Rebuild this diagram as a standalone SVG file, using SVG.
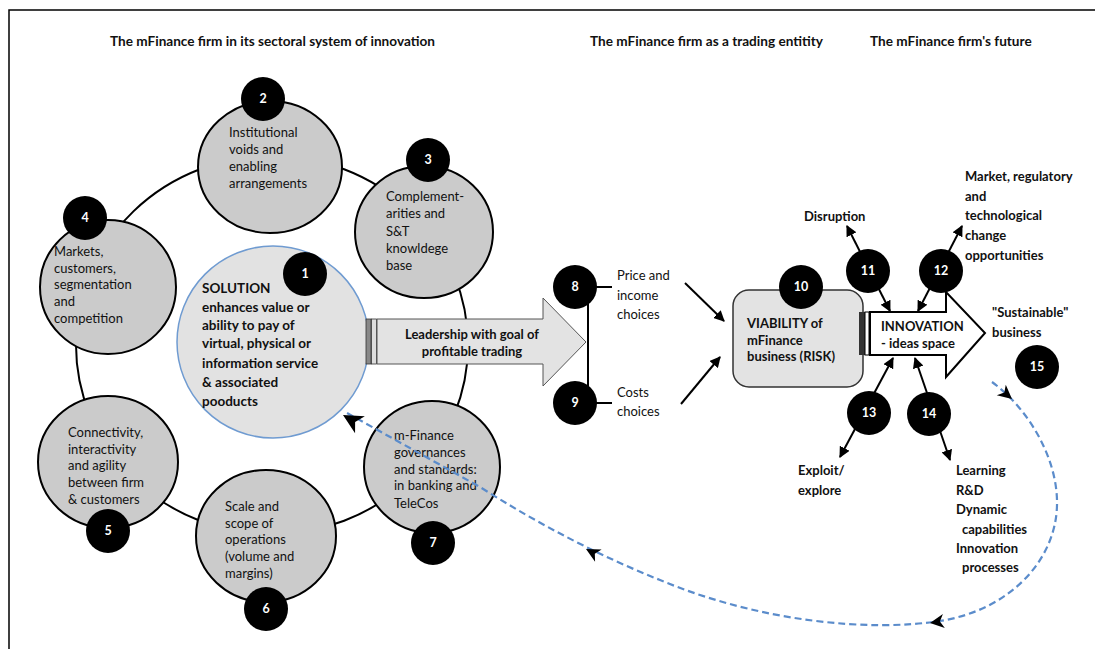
<svg xmlns="http://www.w3.org/2000/svg" width="1095" height="649" viewBox="0 0 1095 649">
<style>
text{font-family:Lato,"Liberation Sans",sans-serif;fill:#111;font-size:13px}
.b{font-weight:bold}
.h{font-weight:bold;font-size:13.6px}
.t{font-weight:bold;font-size:13.5px}
.sat{fill:#cbcbcb;stroke:#000;stroke-width:2}
.badge circle{fill:#000}
.badge text{fill:#fff;font-weight:bold;font-size:12.5px;text-anchor:middle}
.arr{stroke:#000;stroke-width:2;fill:none;marker-end:url(#ah)}
.arr2{stroke:#000;stroke-width:2;fill:none;marker-end:url(#ah);marker-start:url(#ahs)}
.dash{stroke:#5b8ccb;stroke-width:2.2;fill:none;stroke-dasharray:7 4}
</style>
<defs>
<marker id="ah" viewBox="0 0 10 10" refX="9" refY="5" markerWidth="5.5" markerHeight="5.5" orient="auto"><path d="M0,0 L10,5 L0,10 Z" fill="#000"/></marker>
<marker id="ahs" viewBox="0 0 10 10" refX="9" refY="5" markerWidth="5.5" markerHeight="5.5" orient="auto-start-reverse"><path d="M0,0 L10,5 L0,10 Z" fill="#000"/></marker>
<path id="dh" d="M0,0 L-14,-7 L-10,0 L-14,7 Z" fill="#000"/>
</defs>
<rect width="1095" height="649" fill="#fff"/>
<path d="M9,649 V10 H1095" fill="none" stroke="#000" stroke-width="1.5"/>

<g id="titles">
<text x="110" y="46" class="h">The mFinance firm in its sectoral system of innovation</text>
<text x="590" y="46" class="h">The mFinance firm as a trading entitity</text>
<text x="870" y="46" class="h">The mFinance firm's future</text>
</g>

<g id="ring"><ellipse cx="272" cy="345" rx="196" ry="189" fill="none" stroke="#000" stroke-width="2"/></g>

<g id="n2"><ellipse class="sat" cx="270" cy="167" rx="72" ry="66"/>
<text x="229" y="137">Institutional</text><text x="229" y="154">voids and</text><text x="229" y="171">enabling</text><text x="229" y="188">arrangements</text></g>
<g id="n3"><ellipse class="sat" cx="424" cy="232" rx="69" ry="66"/>
<text x="386" y="201">Complement-</text><text x="386" y="218">arities and</text><text x="386" y="236">S&amp;T</text><text x="386" y="253">knowldege</text><text x="386" y="270">base</text></g>
<g id="n4"><ellipse class="sat" cx="108" cy="287" rx="68" ry="67"/>
<text x="54" y="256">Markets,</text><text x="54" y="273">customers,</text><text x="54" y="289">segmentation</text><text x="54" y="306">and</text><text x="54" y="323">competition</text></g>
<g id="n5"><ellipse class="sat" cx="108" cy="462" rx="70" ry="66"/>
<text x="68" y="437">Connectivity,</text><text x="68" y="454">interactivity</text><text x="68" y="470">and agility</text><text x="68" y="487">between firm</text><text x="68" y="504">&amp; customers</text></g>
<g id="n6"><ellipse class="sat" cx="266" cy="536" rx="70" ry="66"/>
<text x="225" y="511">Scale and</text><text x="225" y="528">scope of</text><text x="225" y="544">operations</text><text x="225" y="561">(volume and</text><text x="225" y="578">margins)</text></g>
<g id="n7"><ellipse class="sat" cx="432" cy="467" rx="68" ry="66"/>
<text x="394" y="440">m-Finance</text><text x="394" y="457">governances</text><text x="394" y="474">and standards:</text><text x="394" y="490">in banking and</text><text x="394" y="508">TeleCos</text></g>

<g id="n1"><circle cx="273" cy="342" r="96" fill="#e2e2e2" stroke="#6f9bd1" stroke-width="1.5"/>
<text x="202" y="293" class="t">SOLUTION</text><text x="202" y="312" class="t">enhances value or</text><text x="202" y="330" class="t">ability to pay of</text><text x="202" y="348" class="t">virtual, physical or</text><text x="202" y="368" class="t">information service</text><text x="202" y="387" class="t">&amp; associated</text><text x="202" y="406" class="t">pooducts</text></g>

<g id="leadership">
<rect x="366" y="319" width="5" height="45" fill="#888" stroke="#333" stroke-width="0.8"/>
<rect x="371.5" y="319" width="5" height="45" fill="#ddd" stroke="#333" stroke-width="0.8"/>
<polygon points="377,319 543,319 543,298 586,342 543,386 543,364 377,364" fill="#e3e3e3" stroke="#555" stroke-width="1"/>
<text x="472" y="339" class="b" text-anchor="middle">Leadership with goal of</text>
<text x="472" y="356" class="b" text-anchor="middle">profitable trading</text>
</g>

<g id="choices">
<path d="M588,287 V403 M588,287 H612 M588,403 H612" stroke="#000" stroke-width="2" fill="none"/>
<text x="617" y="280">Price and</text><text x="617" y="300">income</text><text x="617" y="319">choices</text>
<text x="617" y="397">Costs</text><text x="617" y="416">choices</text>
</g>

<g id="viability">
<rect x="733" y="290" width="130" height="97" rx="16" fill="#e3e3e3" stroke="#333" stroke-width="1.5"/>
<text x="747" y="328" class="b">VIABILITY of</text><text x="747" y="345" class="b">mFinance</text><text x="747" y="361" class="b">business (RISK)</text>
</g>

<g id="innovation">
<rect x="859" y="312" width="6" height="43" fill="#333"/>
<rect x="865" y="312" width="4" height="43" fill="#fff" stroke="#000" stroke-width="1"/>
<polygon points="870,312 946,312 946,292 985,333 946,377 946,355 870,355" fill="#fff" stroke="#000" stroke-width="2"/>
<text x="881" y="331" class="b">INNOVATION</text><text x="881" y="348" class="b">- ideas space</text>
</g>

<g id="labels">
<text x="804" y="221" class="b">Disruption</text>
<text x="965" y="181" class="b">Market, regulatory</text><text x="965" y="201" class="b">and</text><text x="965" y="220" class="b">technological</text><text x="965" y="240" class="b">change</text><text x="965" y="260" class="b">opportunities</text>
<text x="992" y="317" class="b">"Sustainable"</text><text x="992" y="337" class="b">business</text>
<text x="798" y="475" class="b">Exploit/</text><text x="798" y="495" class="b">explore</text>
<text x="956" y="475" class="b">Learning</text><text x="956" y="495" class="b">R&amp;D</text><text x="956" y="514" class="b">Dynamic</text><text x="962" y="534" class="b">capabilities</text><text x="956" y="553" class="b">Innovation</text><text x="962" y="572" class="b">processes</text>
</g>

<g id="connectors">
<line class="arr" x1="685" y1="283" x2="724" y2="321"/>
<line class="arr" x1="681" y1="404" x2="720" y2="357"/>
<line class="arr2" x1="890" y1="311" x2="847" y2="226"/>
<line class="arr2" x1="918" y1="311" x2="962" y2="226"/>
<line class="arr2" x1="893" y1="358" x2="840" y2="457"/>
<line class="arr2" x1="915" y1="358" x2="950" y2="460"/>
<path class="dash" d="M992,382 C1030,410 1058,460 1057,505 C1056,560 1010,610 940,621 C870,632 760,622 660,580 C600,556 540,525 480,487 L347,413"/>
<use href="#dh" transform="translate(1012,399) rotate(40)"/>
<use href="#dh" transform="translate(930,623) rotate(172)"/>
<use href="#dh" transform="translate(586,549) rotate(-152)"/>
<use href="#dh" transform="translate(343,415) rotate(-150) scale(1.4)"/>
</g>

<g id="badges" class="badge">
<g id="b1"><circle cx="305" cy="274" r="22"/><text x="305" y="278">1</text></g>
<g id="b2"><circle cx="263" cy="99" r="22"/><text x="263" y="103">2</text></g>
<g id="b3"><circle cx="428" cy="160" r="22"/><text x="428" y="164">3</text></g>
<g id="b4"><circle cx="85" cy="218" r="22"/><text x="85" y="222">4</text></g>
<g id="b5"><circle cx="108" cy="531" r="22"/><text x="108" y="535">5</text></g>
<g id="b6"><circle cx="266" cy="609" r="22"/><text x="266" y="613">6</text></g>
<g id="b7"><circle cx="433" cy="543" r="22"/><text x="433" y="547">7</text></g>
<g id="b8"><circle cx="575" cy="287" r="22"/><text x="575" y="291">8</text></g>
<g id="b9"><circle cx="575" cy="403" r="22"/><text x="575" y="407">9</text></g>
<g id="b10"><circle cx="801" cy="287" r="22"/><text x="801" y="291">10</text></g>
<g id="b11"><circle cx="868" cy="271" r="22"/><text x="868" y="275">11</text></g>
<g id="b12"><circle cx="941" cy="271" r="22"/><text x="941" y="275">12</text></g>
<g id="b13"><circle cx="869" cy="413" r="22"/><text x="869" y="417">13</text></g>
<g id="b14"><circle cx="929" cy="414" r="22"/><text x="929" y="418">14</text></g>
<g id="b15"><circle cx="1037" cy="367" r="22"/><text x="1037" y="371">15</text></g>
</g>
</svg>
